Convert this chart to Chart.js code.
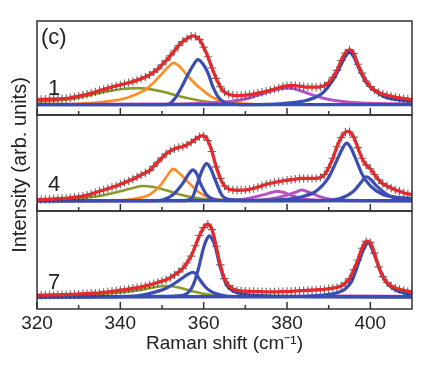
<!DOCTYPE html>
<html>
<head>
<meta charset="utf-8">
<title>Raman spectra (c)</title>
<script src="https://cdn.jsdelivr.net/npm/chart.js@4.4.0/dist/chart.umd.min.js"></script>
<style>
  html, body { margin: 0; padding: 0; background: #fff; }
  #chart { display: block; }
</style>
</head>
<body>
<canvas id="chart" width="436" height="372"></canvas>
<script>
// Raman shift (cm-1) of the measured points
const shift = [
  320, 321, 322, 323, 324, 325, 326, 327, 328, 329,
  330, 331, 332, 333, 334, 335, 336, 337, 338, 339,
  340, 341, 342, 343, 344, 345, 346, 347, 348, 349,
  350, 351, 352, 353, 354, 355, 356, 357, 358, 359,
  360, 361, 362, 363, 364, 365, 366, 367, 368, 369,
  370, 371, 372, 373, 374, 375, 376, 377, 378, 379,
  380, 381, 382, 383, 384, 385, 386, 387, 388, 389,
  390, 391, 392, 393, 394, 395, 396, 397, 398, 399,
  400, 401, 402, 403, 404, 405, 406, 407, 408, 409,
  410
];

// measured spectra (arb. units, 0-100 inside each panel)
const spec1 = [
  16.4, 16.5, 16.7, 16.9, 17.1, 17.2, 17.3, 17.5, 18.3, 19.2,
  20.1, 21.1, 22.0, 23.2, 24.5, 26.0, 27.2, 28.5, 29.7, 31.0,
  32.1, 33.2, 34.4, 35.5, 37.1, 38.7, 40.3, 42.7, 45.6, 49.0,
  53.5, 57.8, 63.0, 68.3, 74.0, 78.2, 81.2, 83.8, 83.6, 80.2,
  72.0, 62.0, 50.0, 39.0, 30.0, 24.5, 22.0, 21.0, 20.7, 20.8,
  21.1, 21.6, 22.4, 23.3, 24.2, 25.1, 26.4, 27.7, 29.0, 30.3,
  31.0, 31.4, 31.2, 30.6, 30.0, 29.7, 29.6, 29.6, 29.8, 31.5,
  34.3, 40.0, 47.5, 58.0, 66.0, 69.3, 65.5, 54.0, 44.5, 36.0,
  30.3, 26.5, 24.0, 22.3, 21.0, 20.0, 19.0, 18.1, 17.4, 16.8,
  16.4
];
const spec4 = [
  11.8, 11.9, 12.1, 12.3, 12.5, 12.8, 13.0, 13.2, 13.8, 14.3,
  14.9, 15.4, 16.5, 17.7, 19.1, 20.6, 21.9, 23.3, 24.7, 26.1,
  27.9, 29.6, 31.4, 33.2, 35.4, 37.6, 39.8, 42.1, 46.5, 51.0,
  55.5, 59.7, 62.5, 64.8, 66.2, 67.1, 69.0, 71.5, 74.5, 77.5,
  78.3, 73.5, 62.0, 46.0, 34.0, 26.0, 23.0, 21.9, 21.6, 21.7,
  22.0, 22.5, 23.5, 24.8, 26.3, 27.9, 28.8, 29.7, 30.6, 31.4,
  32.0, 32.6, 33.2, 33.9, 34.0, 34.0, 34.0, 34.0, 35.0, 38.0,
  45.0, 55.0, 67.0, 76.5, 82.0, 82.5, 77.0, 66.0, 55.0, 48.0,
  44.0, 38.0, 32.5, 28.5, 26.0, 24.0, 22.0, 20.5, 19.0, 17.8,
  17.0
];
const spec7 = [
  14.0, 14.1, 14.2, 14.3, 14.4, 14.5, 14.6, 14.7, 14.9, 15.1,
  15.3, 15.5, 15.7, 16.0, 16.2, 16.5, 17.0, 17.5, 18.1, 18.6,
  19.2, 19.8, 20.5, 21.1, 21.8, 22.5, 23.5, 24.6, 25.8, 27.0,
  28.4, 29.8, 32.0, 34.8, 37.8, 41.5, 47.0, 54.0, 64.5, 75.0,
  83.0, 86.5, 81.0, 64.0, 45.0, 31.0, 24.0, 20.5, 19.0, 18.5,
  18.2, 18.0, 17.8, 17.7, 17.6, 17.5, 17.5, 17.5, 17.6, 17.7,
  17.8, 18.0, 18.3, 18.6, 18.8, 19.0, 19.3, 19.5, 19.8, 20.0,
  20.6, 21.3, 22.0, 23.5, 26.5, 31.0, 40.0, 50.0, 62.0, 69.0,
  68.0, 57.0, 43.0, 33.0, 27.0, 23.5, 21.5, 20.0, 19.0, 18.0,
  17.5
];

// fitted components, [shift, intensity]
const olive1 = [[320,14.0],[326,16.0],[330,18.5],[334,22.5],[338,26.0],[341,28.0],[344,28.6],[347,27.5],[350,25.0],[353,21.5],[356,18.0],[360,14.5],[365,12.5],[372,11.5],[380,11.2],[410,11.0]];
const orange1 = [[320,11.5],[330,12.0],[336,14.0],[340,16.5],[343,20.5],[346,27.0],[348,34.5],[350,44.0],[351.5,51.0],[352.7,55.4],[354,52.5],[356,42.5],[358,33.0],[360,25.5],[362,19.0],[364,15.5],[366,13.5],[370,12.0],[380,11.3],[410,11.0]];
const blue1a = [[320,11],[350,11],[351.5,11.5],[353,17],[354.5,28],[356,41],[357.5,53],[358.6,58.9],[359.7,55],[361,45],[362.3,29],[363.5,19],[365,13.5],[367,11.5],[370,11],[410,11]];
const magenta1 = [[320,11.3],[355,11.8],[362,13.0],[367,14.6],[371,18.1],[375,24.0],[378,27.5],[380,28.6],[382,27.5],[385,23.0],[389.5,17.1],[395,13.6],[400,12.5],[410,11.8]];
const blue1b = [[320,11],[370,11],[379,12.2],[385,16],[388.7,24],[391,37],[392.7,51],[394,62],[395,66.9],[396,62],[397.1,51],[399.1,34],[401,26],[403.1,20],[406,16.5],[410,14.6]];

const olive4 = [[320,11.0],[326,11.8],[332,14.0],[336,16.5],[340,20.5],[343,24.0],[345.5,26.1],[348,25.0],[351,21.5],[354,17.5],[357,14.5],[360,12.5],[365,11.2],[410,10.7]];
const orange4 = [[320,10.7],[338,11.0],[343,12.5],[347,17.1],[349.5,26.1],[351.3,37],[352.7,43.9],[354.2,39],[356,31.4],[359,19],[362,13.2],[366,11.2],[410,10.7]];
const blue4a = [[320,10.7],[348,10.7],[350.3,11.8],[352.7,17.1],[355.1,29.6],[356.5,39],[357.4,42.9],[358.3,39],[359.1,30],[360.7,17],[362.5,12],[365,10.9],[410,10.7]];
const blue4b = [[320,10.7],[355,10.7],[357.1,12.9],[358.7,31.4],[359.8,44],[360.7,49.3],[361.7,44],[362.7,33.2],[364.3,17.1],[366.3,11.8],[370,10.9],[410,10.7]];
const magenta4a = [[320,10.7],[365,11.0],[370,12.5],[374,16.5],[376.5,19.5],[377.6,20.7],[379,19.5],[381.5,15.5],[384,12.5],[388,11.2],[410,10.7]];
const magenta4b = [[320,10.7],[372,11.0],[376,12.5],[380,16.5],[382.3,20.0],[383.5,21.8],[385,20.0],[387.5,15.5],[390,12.5],[395,11.2],[410,10.7]];
const blue4c = [[320,10.7],[370,11.0],[379,11.8],[383,14.3],[387,20.7],[390,35],[392,53],[393.3,65],[394.3,70.7],[395.3,66],[396.3,56.4],[398,38.6],[400,26.1],[403,17.1],[406,14.5],[410,12.9]];
const blue4d = [[320,10.7],[388,10.9],[392.7,12.9],[396,20.7],[398,31],[399.1,35.7],[400.3,32],[401.5,26.1],[404.7,15.4],[407,13],[410,11.8]];

const olive7 = [[320,13.5],[330,14.5],[338,16.0],[344,19.0],[348,22.0],[351,23.5],[354,22.0],[357,18.5],[360,15.5],[364,13.2],[370,12.5],[410,12.3]];
const blue7a = [[320,12.3],[340,12.6],[344,13.5],[347,15.8],[351,21.1],[354.3,29.8],[356.3,35.5],[357.4,37.5],[358.3,35],[359.1,29.8],[360.3,23],[361.5,18.6],[363.5,15],[365.5,13.3],[370,12.5],[410,12.3]];
const blue7b = [[320,12.3],[350,12.8],[353.5,13.3],[356,15.8],[357.5,24.6],[358.7,40.4],[359.9,61.4],[360.7,71],[361.4,74.7],[362,71.5],[362.7,64.9],[363.9,43.9],[365.5,24.6],[367,18.5],[368.7,15.8],[375,13.3],[390,12.6],[410,12.3]];
const magenta7 = [[320,12.3],[380,12.8],[395,13.3],[410,12.8]];
const blue7c = [[320,12.3],[380,12.6],[388,14.0],[392,16.5],[394,20.5],[395.5,28],[397,45],[398.3,60],[399.5,67.5],[400.7,58],[402.3,40],[403.9,27],[406,19.5],[408,16.5],[410,15.0]];

const xTicks = [320, 340, 360, 380, 400];
const minorTicks = [330, 350, 370, 390];
const panelLabels = ['1', '4', '7'];

const RED = '#e52a2e', BLUE = '#3b4db3', ORANGE = '#ff8c1e', OLIVE = '#8a9a2c', MAGENTA = '#b553c2';
const FONT = '"Liberation Sans", Arial, sans-serif';

function pts(pairs) {
  return pairs.map(p => ({ x: p[0], y: p[1] }));
}
function measured(values) {
  return values.map((v, i) => ({ x: shift[i], y: v }));
}
function comp(pairs, color, axis, order, width) {
  return {
    data: pts(pairs),
    yAxisID: axis,
    borderColor: color,
    borderWidth: width || 3,
    pointRadius: 0,
    cubicInterpolationMode: 'monotone',
    order: order
  };
}
function spectrum(values, axis) {
  return [
    { data: measured(values), yAxisID: axis, borderColor: RED, borderWidth: 3.3, pointRadius: 0, tension: 0.3, order: 0 },
    { data: measured(values), yAxisID: axis, showLine: false, pointStyle: 'cross', pointRadius: 4.2,
      pointBorderColor: 'rgba(45,45,45,0.7)', pointBorderWidth: 1.1, order: 1 }
  ];
}

const datasets = [
  ...spectrum(spec1, 'y1'),
  comp(blue1a, BLUE, 'y1', 2, 3.2), comp(blue1b, BLUE, 'y1', 2, 3.2),
  comp(magenta1, MAGENTA, 'y1', 3), comp(orange1, ORANGE, 'y1', 4, 2.6), comp(olive1, OLIVE, 'y1', 5, 2.6),

  ...spectrum(spec4, 'y2'),
  comp(blue4a, BLUE, 'y2', 2, 3.2), comp(blue4b, BLUE, 'y2', 2, 3.2),
  comp(blue4c, BLUE, 'y2', 2, 3.2), comp(blue4d, BLUE, 'y2', 2, 3.2),
  comp(magenta4a, MAGENTA, 'y2', 3), comp(magenta4b, MAGENTA, 'y2', 3),
  comp(orange4, ORANGE, 'y2', 4, 2.6), comp(olive4, OLIVE, 'y2', 5, 2.6),

  ...spectrum(spec7, 'y3'),
  comp(blue7a, BLUE, 'y3', 2, 3.2), comp(blue7b, BLUE, 'y3', 2, 3.2), comp(blue7c, BLUE, 'y3', 2, 3.2),
  comp(magenta7, MAGENTA, 'y3', 3), comp(olive7, OLIVE, 'y3', 5, 2.6)
];

// frames, inward ticks and panel labels
const panelFrames = {
  id: 'panelFrames',
  afterDatasetsDraw(chart) {
    const { ctx, chartArea, scales } = chart;
    const x = scales.x;
    ctx.save();
    ctx.strokeStyle = '#333';
    ctx.lineWidth = 1.5;
    ctx.fillStyle = '#222';
    ctx.font = '22px ' + FONT;
    ctx.textBaseline = 'alphabetic';
    ['y1', 'y2', 'y3'].forEach((id, i) => {
      const s = scales[id];
      ctx.strokeRect(chartArea.left, s.top, chartArea.right - chartArea.left, s.bottom - s.top);
      ctx.beginPath();
      xTicks.forEach(v => {
        const px = x.getPixelForValue(v);
        ctx.moveTo(px, s.bottom);
        ctx.lineTo(px, s.bottom - 7);
      });
      minorTicks.forEach(v => {
        const px = x.getPixelForValue(v);
        ctx.moveTo(px, s.bottom);
        ctx.lineTo(px, s.bottom - 4);
      });
      ctx.stroke();
      ctx.fillText(panelLabels[i], chartArea.left + 11, s.bottom - 20);
    });
    ctx.fillText('(c)', chartArea.left + 4, scales.y1.top + 23);
    ctx.restore();
  }
};

new Chart(document.getElementById('chart'), {
  type: 'line',
  data: { datasets: datasets },
  options: {
    responsive: false,
    animation: false,
    layout: { padding: { top: 21, right: 24, bottom: 0, left: 0 } },
    plugins: { legend: { display: false }, tooltip: { enabled: false } },
    scales: {
      x: {
        type: 'linear', position: 'bottom', min: 320, max: 410,
        afterBuildTicks: s => { s.ticks = xTicks.map(v => ({ value: v })); },
        afterFit: s => { s.height = 63; },
        grid: { display: false, drawTicks: false },
        border: { display: false },
        ticks: { padding: 3, color: '#222', font: { family: FONT, size: 19 } },
        title: { display: true, text: 'Raman shift (cm⁻¹)', color: '#222',
                 font: { family: FONT, size: 19 }, padding: { top: 0, bottom: 17 } }
      },
      yT: {
        type: 'linear', position: 'left', min: 0, max: 1,
        afterFit: s => { s.width = 37; },
        grid: { display: false, drawTicks: false },
        border: { display: false },
        ticks: { display: false },
        title: { display: true, text: 'Intensity (arb. units)', color: '#222',
                 font: { family: FONT, size: 20 }, padding: { top: 8, bottom: 0 } }
      },
      y3: { type: 'linear', position: 'left', display: false, stack: 'panels', stackWeight: 98, min: 0, max: 100 },
      y2: { type: 'linear', position: 'left', display: false, stack: 'panels', stackWeight: 96, min: 0, max: 100 },
      y1: { type: 'linear', position: 'left', display: false, stack: 'panels', stackWeight: 94, min: 0, max: 100 }
    }
  },
  plugins: [panelFrames]
});
</script>
</body>
</html>
